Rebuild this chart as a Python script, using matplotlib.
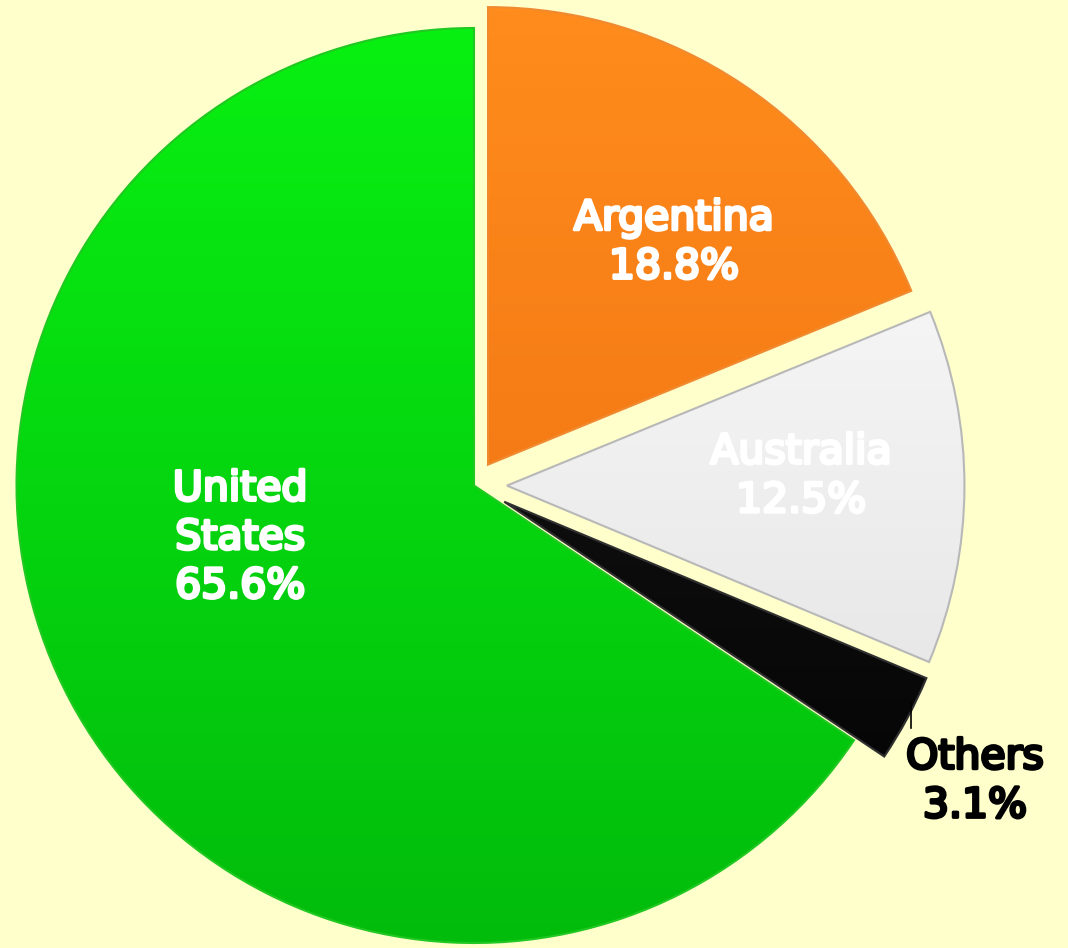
import numpy as np
import matplotlib.pyplot as plt
import matplotlib.patheffects as pe
from matplotlib.patches import Wedge
from matplotlib.colors import LinearSegmentedColormap

countries = ["Argentina", "Australia", "Others", "United States"]
shares = [18.8, 12.5, 3.1, 65.6]
label_text = ["Argentina\n18.8%", "Australia\n12.5%", "Others\n3.1%", "United\nStates\n65.6%"]
explode = [0.055, 0.072, 0.075, 0.0]
# (top colour, bottom colour, rim colour) for each slice
shades = [("#ff8c1c", "#ec6a10", "#f08a30"),
          ("#ffffff", "#dedede", "#b8b8b8"),
          ("#1c1c1c", "#000000", "#303030"),
          ("#08f012", "#02bc0c", "#22c822")]
text_colors = ["white", "white", "black", "white"]
text_pos = [(0.437, 0.530), (0.715, 0.019), (1.095, -0.648), (-0.511, -0.115)]

bg = "#ffffcc"
cx, cy, R = 474, 485.5, 457.5   # pie centre and radius in pixels

fig = plt.figure(figsize=(10.68, 9.48), dpi=100, facecolor=bg)
ax = fig.add_axes([0, 0, 1, 1])
ax.set_facecolor(bg)

wedges, _ = ax.pie(shares, explode=explode, startangle=90, counterclock=False,
                   radius=1.0, colors=[s[1] for s in shades],
                   wedgeprops=dict(linewidth=0))

# vertical gradient fill clipped to each wedge, with a thin rim on top
for w, (top, bottom, rim) in zip(wedges, shades):
    cmap = LinearSegmentedColormap.from_list("g", [bottom, top])
    grad = np.linspace(0, 1, 256).reshape(-1, 1)
    y0 = w.center[1] - w.r
    y1 = w.center[1] + w.r
    im = ax.imshow(grad, cmap=cmap, origin="lower", aspect="auto",
                   extent=(-1.2, 1.3, y0, y1), zorder=2)
    im.set_clip_path(w)
    ax.add_patch(Wedge(w.center, w.r, w.theta1, w.theta2, fill=False,
                       edgecolor=rim, linewidth=1.5, zorder=3))

for txt, (x, y), c in zip(label_text, text_pos, text_colors):
    ax.text(x, y, txt, ha="center", va="center", color=c, fontsize=29.5,
            family="DejaVu Sans", linespacing=1.28, zorder=5,
            path_effects=[pe.withStroke(linewidth=2.3, foreground=c)])

# leader line for the small slice
ax.plot([0.955, 0.955], [-0.473, -0.530], color="black", linewidth=1.2, zorder=5)

ax.set_xlim(-cx / R, (1068 - cx) / R)
ax.set_ylim(-(948 - cy) / R, cy / R)
ax.set_aspect("auto")
ax.axis("off")

fig.savefig("out.png", dpi=100, facecolor=bg)
